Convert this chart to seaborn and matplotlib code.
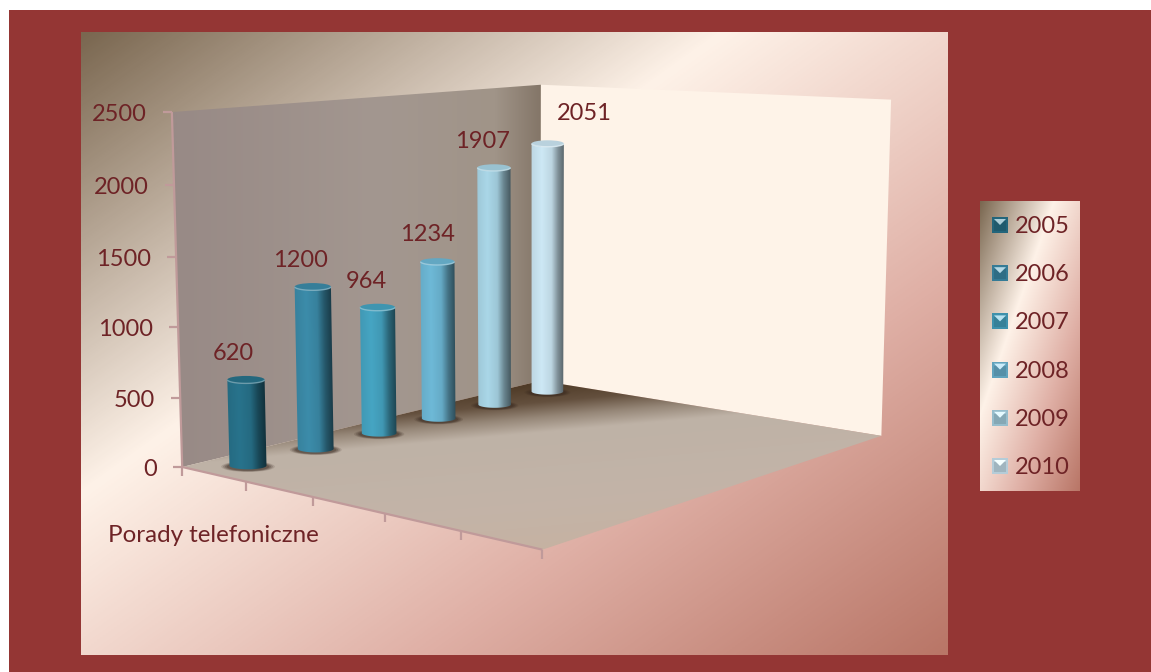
import numpy as np
import matplotlib
matplotlib.use("Agg")
import matplotlib.pyplot as plt
from matplotlib.colors import LinearSegmentedColormap
from matplotlib.patches import Ellipse, Polygon, Rectangle
import seaborn as sns

# ---- chart data ----
series_names = ["2005", "2006", "2007", "2008", "2009", "2010"]
series_values = [620, 1200, 964, 1234, 1907, 2051]
value_ticks = [0, 500, 1000, 1500, 2000, 2500]
category_label = "Porady telefoniczne"
series_colors = ["#28738C", "#3C8CAA", "#46A5C3", "#6EB9D7", "#AAD7E8", "#CDE8F5"]

# ---- style ----
sns.set_theme(style="white")
plt.rcParams["font.family"] = ["Lato", "DejaVu Sans"]
TEXT = "#6E2326"
FRAME = "#943634"
AXIS = "#C09A9A"
FONT = 17
palette = sns.color_palette(series_colors)

fig = plt.figure(figsize=(11.51, 6.72), dpi=100, facecolor="white")
ax = fig.add_axes([0, 0, 1, 1])
ax.axis("off")

panel_cmap = LinearSegmentedColormap.from_list(
    "panel",
    [(0.0, (122/255, 103/255, 80/255)),
     (0.37, (254/255, 242/255, 232/255)),
     (0.70, (223/255, 175/255, 165/255)),
     (1.0, (185/255, 118/255, 103/255))])


def gradient_box(x0, y0, x1, y1, z=1):
    u, v = np.meshgrid(np.linspace(0, 1, 300), np.linspace(0, 1, 300))
    ax.imshow((u + v) / 2, extent=(x0, x1, y1, y0), cmap=panel_cmap, vmin=0, vmax=1,
              aspect="auto", zorder=z, interpolation="bilinear")


ax.add_patch(Rectangle((9, 10), 1142, 662, color=FRAME, lw=0, zorder=0))
gradient_box(81, 32, 948, 655)
gradient_box(980, 201, 1080, 491)

# ---- camera: floor coordinates (s, t) in 0..1, height in value units ----
world = [(0, 0, 0), (1, 0, 0), (0, 1, 0), (1, 1, 0),
         (0, 0, 500), (0, 0, 1000), (0, 0, 1500), (0, 0, 2000),
         (0, 0, 2500), (1, 0, 2500), (1, 1, 2500)]
screen = [(182, 467), (541, 380), (543, 549), (881, 437),
          (180, 398), (178, 327), (176, 257), (174, 185),
          (172, 112), (541, 85), (891, 99)]
ZMAX = value_ticks[-1]
rows, rhs = [], []
for (a, b, c), (px, py) in zip(world, screen):
    c = c / ZMAX
    rows.append([a, b, c, 1, 0, 0, 0, 0, -px*a, -px*b, -px*c]); rhs.append(px)
    rows.append([0, 0, 0, 0, a, b, c, 1, -py*a, -py*b, -py*c]); rhs.append(py)
sol = np.linalg.lstsq(np.array(rows, float), np.array(rhs, float), rcond=None)[0]
P = np.append(sol, 1.0).reshape(3, 4)


def project(s, t, z):
    s, t, z = np.broadcast_arrays(s, t, np.asarray(z, float) / ZMAX)
    h = np.stack([s, t, z, np.ones_like(s, dtype=float)], axis=-1) @ P.T
    return h[..., 0] / h[..., 2], h[..., 1] / h[..., 2], h[..., 2]


def blend_rgb(stops, pos):
    pos = np.asarray(pos, float)
    xs = [p for p, _ in stops]
    return np.stack([np.interp(pos, xs, [c[i] for _, c in stops]) / 255 for i in range(3)], axis=-1)


def shaded_region(shade, outline, z):
    """Fill an outline with colours given by shade(x, y) on a fine screen grid."""
    outline = np.asarray(outline)
    x0, y0 = outline.min(axis=0) - 1
    x1, y1 = outline.max(axis=0) + 1
    gx = np.linspace(x0, x1, max(int((x1 - x0) * 2), 2))
    gy = np.linspace(y0, y1, max(int((y1 - y0) * 2), 2))
    GX, GY = np.meshgrid(gx, gy)
    im = ax.imshow(shade(GX, GY), extent=(x0, x1, y1, y0), aspect="auto", zorder=z,
                   interpolation="bilinear")
    im.set_clip_path(Polygon(outline, closed=True, transform=ax.transData))


# ---- back walls ----
s_line = np.linspace(0, 1, 121)
wall_stops = [(0.0, (152, 138, 134)), (0.5, (163, 151, 144)), (0.85, (160, 148, 136)), (1.0, (131, 117, 103))]
wx_line, _, _ = project(s_line, 0.0, ZMAX / 2)
wx, wy, _ = project(np.array([0, 1, 1, 0]), 0.0, np.array([0, 0, ZMAX, ZMAX]))
shaded_region(lambda X, Y: blend_rgb(wall_stops, np.interp(X, wx_line, s_line)), np.c_[wx, wy], 2)

xs, ys, _ = project(np.array([1, 1, 1, 1]), np.array([0, 1, 1, 0]), np.array([0, 0, ZMAX, ZMAX]))
ax.add_patch(Polygon(np.c_[xs, ys], closed=True, color="#FEF3E8", lw=0, zorder=2))

# ---- floor ----
floor_stops = [(383, (80, 60, 40)), (400, (100, 80, 62)), (415, (150, 135, 120)),
               (430, (190, 178, 166)), (500, (195, 180, 168)), (549, (198, 178, 162))]
fx, fy, _ = project(np.array([0, 1, 1, 0]), np.array([0, 0, 1, 1]), 0)
shaded_region(lambda X, Y: blend_rgb(floor_stops, Y + 0.09 * (X - 560)), np.c_[fx, fy], 3)

# ---- axis lines and ticks ----
ax_style = dict(color=AXIS, lw=1.6, zorder=4, solid_capstyle="butt")
px, py, _ = project(0, 0, np.array([0, ZMAX]))
ax.plot(px, py, **ax_style)
px, py, _ = project(0, np.array([0, 1]), 0)
ax.plot(px, py, **ax_style)
for v in value_ticks:
    x, y, _ = project(0, 0, v)
    ax.plot([x - 9, x], [y, y], **ax_style)
    ax.text(x - 25, y + 2.5, str(v), ha="right", va="center", color=TEXT, fontsize=FONT, zorder=6)
for k in range(6):
    x, y, _ = project(0, k / 5, 0)
    ax.plot([x, x], [y, y + 9], **ax_style)

# ---- cylinders ----
bar_s = 0.0815 + 0.168 * np.arange(len(series_values))
bar_t = 0.10
_, _, w_first = project(bar_s[0], bar_t, 0)
RADIUS = 18.5 * float(w_first)
ASPECT = 0.2
shade_pos = [0.0, 0.3, 0.6, 0.8, 1.0]
shade_gain = [0.93, 1.0, 0.92, 0.62, 0.42]
label_offsets = [(-13, -26), (-12.5, -26), (-11, -26), (-10.5, -27), (-11.5, -26), (37, -30)]


def cylinder_shader(xb, yb, hb, xt, yt, ht, base):
    """Shade across the width of a cylinder whose axis runs from base to top."""
    def shade(X, Y):
        f = (Y - yb) / (yt - yb)
        centre = xb + (xt - xb) * f
        half = hb + (ht - hb) * f
        lateral = np.clip((X - centre) / half, -1, 1)
        angle = (lateral + 1) / 2
        return np.clip(np.interp(angle, shade_pos, shade_gain)[..., None] * base, 0, 1)
    return shade


for i in range(len(series_values) - 1, -1, -1):
    s, value, base = bar_s[i], series_values[i], np.array(palette[i])
    layer = (6 - i) * 0.01

    # soft contact shadow on the floor
    x0, y0, w0 = project(s, bar_t, 0)
    half0 = RADIUS / float(w0)
    for grow, alpha in zip([1.45, 1.35, 1.25, 1.15], [0.15, 0.2, 0.25, 0.3]):
        ax.add_patch(Ellipse((x0, y0 + 1), 2 * half0 * grow, 2 * half0 * ASPECT * grow,
                             color="#3A2A20", alpha=alpha, lw=0, zorder=5 + layer))

    # side of the cylinder: top and bottom curves joined by straight edges
    tx, ty, tw = project(s, bar_t, value)
    thalf = RADIUS / float(tw)
    a = np.radians(np.linspace(-90, 90, 41))
    lower = np.c_[x0 + half0 * np.sin(a), y0 + half0 * ASPECT * np.cos(a)]
    upper = np.c_[tx + thalf * np.sin(a[::-1]), ty + thalf * ASPECT * np.cos(a[::-1])]
    shader = cylinder_shader(float(x0), float(y0), half0, float(tx), float(ty), thalf, base)
    shaded_region(shader, np.vstack([lower, upper]), 5.1 + layer)

    # cap with a lighter rim along its front edge
    ax.add_patch(Ellipse((tx, ty), 2 * thalf, 2 * thalf * ASPECT, color=base * 0.9, lw=0,
                         zorder=5.2 + layer))
    arc_t = np.linspace(-np.pi * 0.45, np.pi * 0.45, 30)
    rim = np.clip(base * 0.6 + 0.38, 0, 1)
    ax.plot(tx + thalf * np.sin(arc_t), ty + thalf * ASPECT * np.cos(arc_t), color=rim, lw=1.0,
            alpha=0.8, zorder=5.3 + layer)

    dx, dy = label_offsets[i]
    ax.text(tx + dx, ty + dy, str(value), ha="center", va="center", color=TEXT, fontsize=FONT, zorder=7)

ax.text(213, 536, category_label, ha="center", va="center", color=TEXT, fontsize=17.4, zorder=7)

# ---- legend ----
legend_y = np.linspace(225, 466, len(series_names))
for name, col, y in zip(series_names, palette, legend_y):
    col = np.array(col)
    ax.add_patch(Rectangle((992, y - 8), 16, 16, color=col * 0.88, lw=0, zorder=6))
    ax.add_patch(Rectangle((994, y - 4), 12, 10, color=col * 0.78, lw=0, zorder=6.1))
    tip = np.clip(col * 0.45 + 0.6, 0, 1)
    ax.add_patch(Polygon([(994, y - 6), (1006, y - 6), (1000, y)], closed=True, color=tip, lw=0, zorder=6.2))
    ax.text(1015, y + 1.5, name, ha="left", va="center", color=TEXT, fontsize=FONT, zorder=7)

ax.set_xlim(0, 1151)
ax.set_ylim(672, 0)
fig.savefig("out.png", dpi=100)
